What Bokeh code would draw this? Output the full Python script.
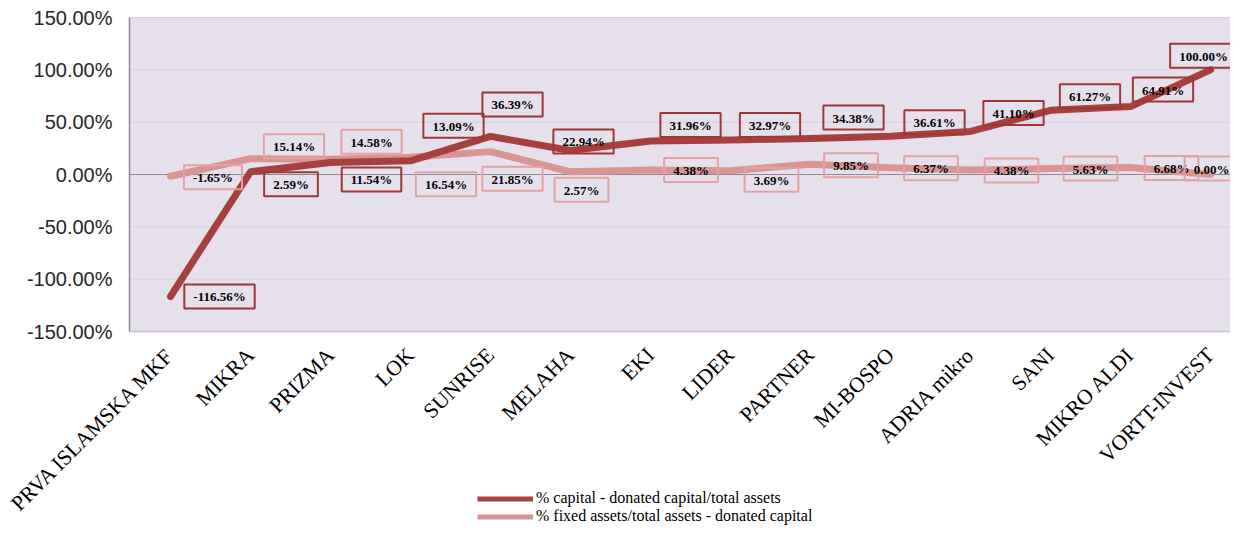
from bokeh.plotting import figure
from bokeh.models import (FixedTicker, PrintfTickFormatter, ColumnDataSource,
                          Legend, LegendItem, Range1d, BoxAnnotation)
from bokeh.core.properties import value
from bokeh.embed import file_html
from bokeh.resources import INLINE
import math

categories = ["PRVA ISLAMSKA MKF", "MIKRA", "PRIZMA", "LOK", "SUNRISE", "MELAHA", "EKI",
              "LIDER", "PARTNER", "MI-BOSPO", "ADRIA mikro", "SANI", "MIKRO ALDI", "VORTT-INVEST"]
capital = [-116.56, 2.59, 11.54, 13.09, 36.39, 22.94, 31.96, 32.97, 34.38, 36.61, 41.10, 61.27, 64.91, 100.00]
fixed_assets = [-1.65, 15.14, 14.58, 16.54, 21.85, 2.57, 4.38, 3.69, 9.85, 6.37, 4.38, 5.63, 6.68, 0.00]
y_ticks = [-150, -100, -50, 0, 50, 100, 150]
series_names = ["% capital - donated capital/total assets",
                "% fixed assets/total assets - donated capital"]

# data-label placement (screen px, box centre relative to point; +y is down)
cap_dx = [49, 40.5, 41, 43, 22, 13, 40, 39.5, 43, 44, 43, 39.5, 32.5, -7]
cap_dy = [0, 12.5, 17, -35, -32, -9, -16, -15, -21, -14, -18.5, -14, -17, -14]
fix_dx = [42.5, 43.5, 41, 35.5, 22, 11, 40.5, 41, 40.5, 40.5, 41, 40, 41, 1]
fix_dy = [1, -12.5, -17.5, 27, 27, 18, 0, 9, 1, 0.5, 0.5, 0, 0.5, -6]

DARK = "#A6403E"
LIGHT = "#D99594"
DARK_BOX = "#9E3836"
LIGHT_BOX = "#E3A2A1"
PLOT_BG = "#E5E0EC"

# geometry (px): the frame covers the whole figure; the lavender plot area sits inside it
W, H = 1230, 525
AREA_LEFT, AREA_TOP, AREA_H = 129, 17, 314
FIRST_CAT_PX, CAT_STEP = 170, 80

y_lo, y_hi = y_ticks[0], y_ticks[-1]
ppu = AREA_H / (y_hi - y_lo)
y_range_top = y_hi + AREA_TOP / ppu
y_range_bottom = y_lo - (H - AREA_TOP - AREA_H) / ppu

x_range_start = -FIRST_CAT_PX / CAT_STEP
x_range_end = (W - FIRST_CAT_PX) / CAT_STEP
area_x0 = (AREA_LEFT - FIRST_CAT_PX) / CAT_STEP

xs = list(range(len(categories)))

p = figure(width=W, height=H, output_backend="svg", toolbar_location=None,
           x_range=Range1d(x_range_start, x_range_end),
           y_range=Range1d(y_range_bottom, y_range_top),
           min_border_left=0, min_border_right=0, min_border_top=0, min_border_bottom=0)
p.background_fill_color = "white"
p.border_fill_color = "white"
p.outline_line_color = None
p.xgrid.grid_line_color = None
p.ygrid.grid_line_color = None

# lavender plot area
p.add_layout(BoxAnnotation(left=area_x0, bottom=y_lo, top=y_hi, fill_color=PLOT_BG,
                           fill_alpha=1, line_color=None, level="image"))

# horizontal gridlines, zero line, borders
grid_vals = [t for t in y_ticks if t not in (0, y_lo)]
p.segment(x0=[area_x0] * len(grid_vals), y0=grid_vals, x1=[x_range_end] * len(grid_vals),
          y1=grid_vals, line_color="#D6D2DC", line_width=1)
p.segment(x0=[area_x0], y0=[0], x1=[x_range_end], y1=[0], line_color="#8C8C8C", line_width=1)
p.segment(x0=[area_x0], y0=[y_lo], x1=[x_range_end], y1=[y_lo], line_color="#CFCCD8", line_width=2)
p.segment(x0=[area_x0], y0=[y_lo], x1=[area_x0], y1=[y_hi], line_color="#8C8C8C", line_width=1.5)

# y axis at the plot-area edge
p.yaxis.fixed_location = area_x0
p.yaxis.ticker = FixedTicker(ticks=y_ticks)
p.yaxis.formatter = PrintfTickFormatter(format="%.2f%%")
p.yaxis.major_label_text_font = "Liberation Sans"
p.yaxis.major_label_text_font_size = "20px"
p.yaxis.major_label_text_color = "#262626"
p.yaxis.major_tick_line_color = None
p.yaxis.major_tick_out = 0
p.yaxis.major_tick_in = 0
p.yaxis.minor_tick_line_color = None
p.yaxis.major_label_standoff = 17
p.yaxis.axis_line_color = None

# x axis at the bottom of the plot area
p.xaxis.fixed_location = y_lo
p.xaxis.ticker = FixedTicker(ticks=xs)
p.xaxis.major_label_overrides = {i: c for i, c in enumerate(categories)}
p.xaxis.major_label_orientation = math.pi / 4
p.xaxis.major_label_text_font = "Liberation Serif"
p.xaxis.major_label_text_font_size = "21.5px"
p.xaxis.major_label_text_color = "black"
p.xaxis.major_tick_line_color = None
p.xaxis.major_tick_out = 0
p.xaxis.major_tick_in = 0
p.xaxis.minor_tick_line_color = None
p.xaxis.major_label_standoff = 20
p.xaxis.axis_line_color = None

# series lines
p.line(xs, fixed_assets, line_color=LIGHT, line_width=7, line_cap="round", line_join="round")
p.line(xs, capital, line_color=DARK, line_width=7, line_cap="round", line_join="round")

# data labels
def labels(vals, dx, dy, border):
    src = ColumnDataSource(dict(x=xs, y=vals, t=["%.2f%%" % v for v in vals], dx=dx, dy=dy))
    p.text(x="x", y="y", text="t", source=src, x_offset="dx", y_offset="dy",
           text_align="center", text_baseline="middle",
           text_font=value("Liberation Serif"), text_font_style="bold",
           text_font_size="13px", text_color="black",
           border_line_color=border, border_line_width=2,
           background_fill_color=None,
           padding=dict(left=9, right=9, top=5, bottom=4))

labels(fixed_assets, fix_dx, fix_dy, LIGHT_BOX)
labels(capital, cap_dx, cap_dy, DARK_BOX)

# legend (sample renderers that draw nothing in the plot)
nan = float("nan")
r1 = p.line(x=[nan], y=[nan], line_color=DARK, line_width=5)
r2 = p.line(x=[nan], y=[nan], line_color=LIGHT, line_width=5)
legend = Legend(items=[LegendItem(label=series_names[0], renderers=[r1]),
                       LegendItem(label=series_names[1], renderers=[r2])],
                location=(477, 0), orientation="vertical",
                background_fill_alpha=0, border_line_color=None,
                label_text_font="Liberation Serif", label_text_font_size="16px",
                label_text_color="black",
                glyph_width=56, glyph_height=15, label_height=15, spacing=0,
                padding=0, margin=0, label_standoff=3)
p.add_layout(legend, "center")

open("out.html", "w").write(file_html(p, INLINE))
